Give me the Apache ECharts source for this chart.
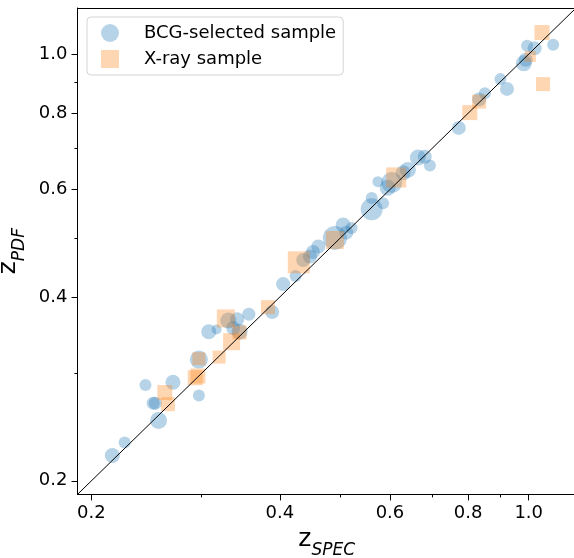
<!DOCTYPE html>
<html>
<head>
<meta charset="utf-8">
<script src="https://cdn.jsdelivr.net/npm/echarts@6/dist/echarts.min.js"></script>
<style>
html,body{margin:0;padding:0;background:#fff;}
#chart{width:574px;height:558px;}
</style>
</head>
<body>
<div id="chart"></div>
<script>
// ---- data ----
const bcgSpec = [0.216,0.226,0.256,0.251,0.253,0.244,0.270,0.297,0.297,0.308,0.317,0.331,0.342,0.337,0.345,0.357,0.389,0.405,0.424,0.436,0.447,0.452,0.461,0.490,0.505,0.521,0.511,0.561,0.561,0.585,0.574,0.604,0.595,0.630,0.641,0.665,0.682,0.695,0.773,0.833,0.851,0.901,0.923,0.982,0.989,0.994,1.022,1.094];
const bcgPdf  = [0.220,0.231,0.251,0.268,0.268,0.287,0.290,0.276,0.316,0.351,0.354,0.366,0.368,0.356,0.351,0.375,0.378,0.420,0.433,0.460,0.466,0.474,0.484,0.500,0.525,0.519,0.510,0.581,0.557,0.570,0.618,0.616,0.604,0.639,0.646,0.677,0.679,0.657,0.757,0.843,0.863,0.910,0.877,0.966,0.979,1.032,1.022,1.036];
const bcgSize = [15,12,17,13,13,12,15,12,18,15,10,16,14,14,16,13,14,14,12,14,14,14,14,24,15,12,14,12,22,12,11,21,16,15,16,16,14,12,14,14,12,12,14,16,14,12,14,12];

const xraySpec = [0.262,0.265,0.293,0.296,0.297,0.320,0.328,0.345,0.335,0.383,0.429,0.490,0.614,0.805,0.833,1.006,1.050,1.054];
const xrayPdf  = [0.279,0.267,0.295,0.297,0.317,0.319,0.369,0.350,0.338,0.385,0.456,0.496,0.628,0.802,0.836,0.991,1.085,0.893];
const xraySize = [15,14,15,15,13,13,18,14,17,14,22,18,20,15,14,11,15,14];

const majorTicks = [0.2,0.4,0.6,0.8,1.0];
const minorTicks = [0.3,0.5,0.7,0.9];
const axisMin = 0.19, axisMax = 1.19;
const seriesNames = ['BCG-selected sample','X-ray sample'];

// ---- build ----
const L = v => Math.log10(v);
const FONT = 'DejaVu Sans';
const LMIN = L(axisMin), LMAX = L(axisMax);
const bcgData = bcgSpec.map((x,i)=>[L(x), L(bcgPdf[i]), bcgSize[i]]);
const xrayData = xraySpec.map((x,i)=>[L(x), L(xrayPdf[i]), xraySize[i]]);
const majorL = majorTicks.map(L), minorL = minorTicks.map(L);
const fmt = v => Math.pow(10, v).toFixed(1);

function baseAxis(extra){
  return Object.assign({
    type:'value', min:LMIN, max:LMAX, splitLine:{show:false},
    axisLine:{show:true, onZero:false, lineStyle:{color:'#000', width:1}},
  }, extra);
}
const nameRich = {
  z:{fontSize:25, fontFamily:FONT, color:'#000', verticalAlign:'bottom'},
  s:{fontSize:17, fontFamily:FONT, fontStyle:'italic', color:'#000', verticalAlign:'bottom', padding:[0,0,-7,0]}
};

const chart = echarts.init(document.getElementById('chart'), null, {renderer:'canvas'});
chart.setOption({
  animation:false,
  backgroundColor:'#fff',
  grid:{left:77.5, top:8, width:498.5, height:486.4, outerBoundsMode:'none'},
  legend:{
    data:[{name:seriesNames[0], icon:'circle'},{name:seriesNames[1], icon:'rect'}],
    orient:'vertical', left:87, top:17, itemWidth:18, itemHeight:18, itemGap:8,
    padding:[7,7,7,14], borderColor:'#d4d4d4', borderWidth:1, borderRadius:4,
    backgroundColor:'rgba(255,255,255,0.8)',
    textStyle:{fontSize:18, fontFamily:FONT, color:'#000', padding:[0,0,0,20]}
  },
  xAxis:[
    baseAxis({position:'bottom',
      axisTick:{show:true, length:6, customValues:majorL, lineStyle:{color:'#000'}},
      axisLabel:{show:true, customValues:majorL, formatter:fmt, fontSize:18, fontFamily:FONT, color:'#000', margin:10},
      name:'{z|z}{s|SPEC}', nameLocation:'middle', nameGap:33,
      nameTextStyle:{color:'#000', rich:nameRich}
    }),
    baseAxis({position:'bottom', axisLine:{show:false, onZero:false},
      axisTick:{show:true, length:3, customValues:minorL, lineStyle:{color:'#000'}},
      axisLabel:{show:false}}),
    baseAxis({position:'top', axisTick:{show:false}, axisLabel:{show:false}})
  ],
  yAxis:[
    baseAxis({position:'left',
      axisTick:{show:true, length:6, customValues:majorL, lineStyle:{color:'#000'}},
      axisLabel:{show:true, customValues:majorL, formatter:fmt, fontSize:18, fontFamily:FONT, color:'#000', margin:10},
      name:'{z|z}{s|PDF}', nameLocation:'middle', nameGap:47,
      nameTextStyle:{color:'#000', rich:nameRich}
    }),
    baseAxis({position:'left', axisLine:{show:false, onZero:false},
      axisTick:{show:true, length:3, customValues:minorL, lineStyle:{color:'#000'}},
      axisLabel:{show:false}})
  ],
  series:[
    {name:seriesNames[0], type:'scatter', xAxisIndex:0, yAxisIndex:0, data:bcgData,
      symbol:'circle', symbolSize:d=>d[2], itemStyle:{color:'rgba(31,119,180,0.4)'}, z:2},
    {name:seriesNames[1], type:'scatter', xAxisIndex:0, yAxisIndex:0, data:xrayData,
      symbol:'rect', symbolSize:d=>d[2], itemStyle:{color:'rgba(255,127,14,0.4)'}, z:3},
    {name:'one-to-one', type:'line', xAxisIndex:0, yAxisIndex:0, data:[[LMIN,LMIN],[LMAX,LMAX]],
      symbol:'none', lineStyle:{color:'#000', width:1}, silent:true, z:4}
  ]
});
</script>
</body>
</html>
